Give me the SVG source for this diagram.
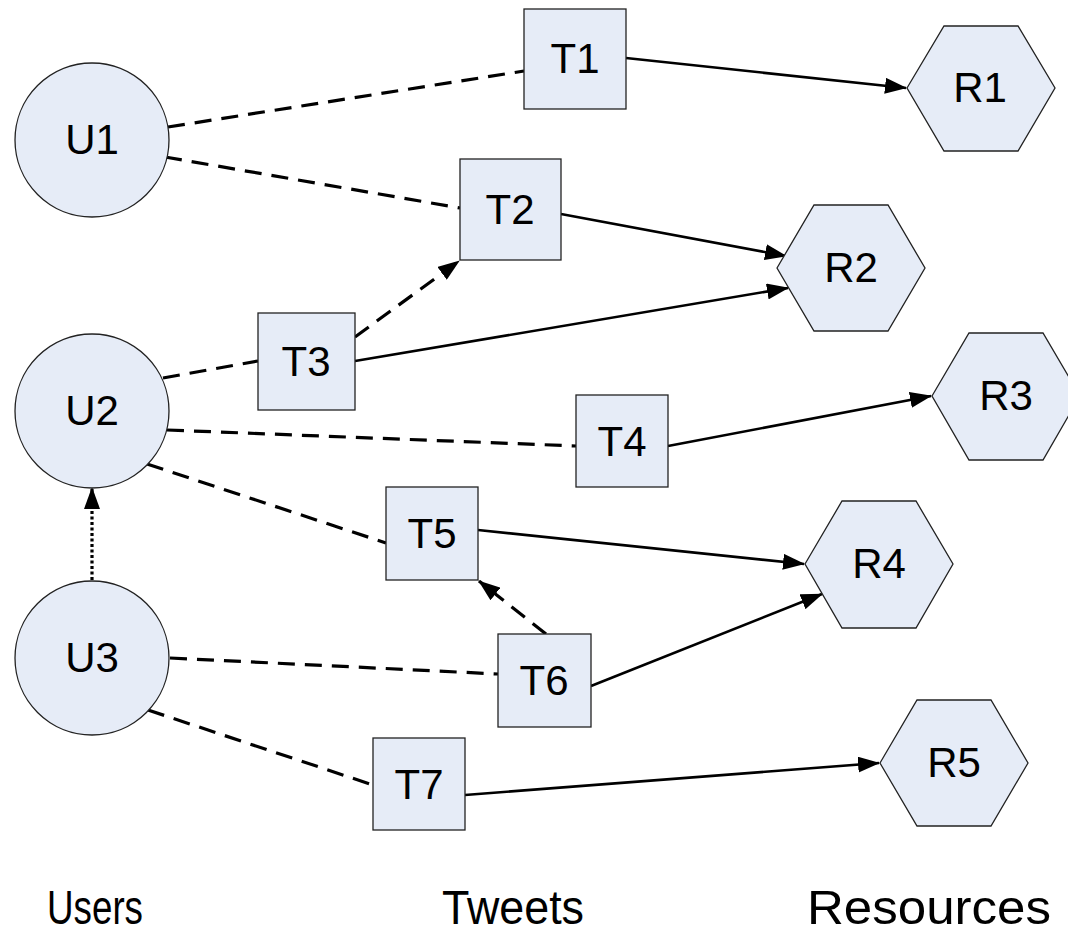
<svg xmlns="http://www.w3.org/2000/svg" width="1068" height="936" viewBox="0 0 1068 936">
<style>
.n{fill:#E6ECF7;stroke:#222;stroke-width:1.3}
.t{font-family:"Liberation Sans",Arial,sans-serif;font-size:42px;fill:#000;text-anchor:middle}
.h{font-family:"Liberation Sans",Arial,sans-serif;font-size:48px;fill:#000;text-anchor:middle}
.s{stroke:#000;stroke-width:2.6;fill:none}
.d{stroke:#000;stroke-width:3.2;fill:none;stroke-dasharray:17 10}
.o{stroke:#000;stroke-width:3.2;fill:none;stroke-dasharray:3 2.5}
</style>
<defs>
<marker id="a" markerUnits="userSpaceOnUse" markerWidth="22" markerHeight="16" refX="21" refY="8" orient="auto">
<path d="M0,0 L22,8 L0,16 z" fill="#000"/>
</marker>
</defs>
<rect width="1068" height="936" fill="#fff"/>
<g id="connectors">
<line class="d" x1="168" y1="127" x2="524" y2="71"/>
<line class="d" x1="165" y1="157" x2="460" y2="208"/>
<line class="s" x1="626" y1="58" x2="906" y2="88" marker-end="url(#a)"/>
<line class="s" x1="561" y1="214" x2="786" y2="256" marker-end="url(#a)"/>
<line class="s" x1="355" y1="361" x2="788" y2="288" marker-end="url(#a)"/>
<line class="d" x1="355" y1="337" x2="459" y2="261" marker-end="url(#a)"/>
<line class="d" x1="163" y1="378" x2="258" y2="361"/>
<line class="d" x1="167" y1="430" x2="576" y2="446"/>
<line class="s" x1="668" y1="446" x2="931" y2="396" marker-end="url(#a)"/>
<line class="d" x1="147" y1="464" x2="386" y2="543"/>
<line class="s" x1="478" y1="530" x2="804" y2="564" marker-end="url(#a)"/>
<line class="d" x1="546" y1="634" x2="479" y2="581" marker-end="url(#a)"/>
<line class="s" x1="591" y1="686" x2="822" y2="594" marker-end="url(#a)"/>
<line class="d" x1="170" y1="658" x2="498" y2="674"/>
<line class="d" x1="148" y1="710" x2="373" y2="785"/>
<line class="s" x1="465" y1="795" x2="879" y2="763" marker-end="url(#a)"/>
<line class="o" x1="92" y1="580" x2="92" y2="488" marker-end="url(#a)"/>
</g>
<g id="U1"><circle class="n" cx="92" cy="140" r="77"/><text class="t" x="92" y="154">U1</text></g>
<g id="U2"><circle class="n" cx="92" cy="411" r="77"/><text class="t" x="92" y="425">U2</text></g>
<g id="U3"><circle class="n" cx="92" cy="658" r="77"/><text class="t" x="92" y="672">U3</text></g>
<g id="T1"><rect class="n" x="524" y="9" width="102" height="100"/><text class="t" x="575" y="73">T1</text></g>
<g id="T2"><rect class="n" x="460" y="159" width="101" height="101"/><text class="t" x="510" y="224">T2</text></g>
<g id="T3"><rect class="n" x="258" y="313" width="97" height="97"/><text class="t" x="306" y="376">T3</text></g>
<g id="T4"><rect class="n" x="576" y="395" width="92" height="92"/><text class="t" x="622" y="456">T4</text></g>
<g id="T5"><rect class="n" x="386" y="487" width="92" height="93"/><text class="t" x="432" y="548">T5</text></g>
<g id="T6"><rect class="n" x="498" y="634" width="93" height="93"/><text class="t" x="544" y="695">T6</text></g>
<g id="T7"><rect class="n" x="373" y="738" width="92" height="92"/><text class="t" x="419" y="799">T7</text></g>
<g id="R1"><polygon class="n" points="907,88 944,26 1018,26 1055,88 1018,151 944,151"/><text class="t" x="980" y="102">R1</text></g>
<g id="R2"><polygon class="n" points="777,268 814,205 888,205 925,268 888,331 814,331"/><text class="t" x="851" y="282">R2</text></g>
<g id="R3"><polygon class="n" points="932,396 969,333 1043,333 1080,396 1043,460 969,460"/><text class="t" x="1006" y="410">R3</text></g>
<g id="R4"><polygon class="n" points="805,564 842,501 916,501 953,564 916,628 842,628"/><text class="t" x="879" y="578">R4</text></g>
<g id="R5"><polygon class="n" points="880,763 917,700 991,700 1028,763 991,826 917,826"/><text class="t" x="954" y="777">R5</text></g>
<g id="labels">
<text class="h" x="95" y="924" textLength="96" lengthAdjust="spacingAndGlyphs">Users</text>
<text class="h" x="513" y="924" textLength="142" lengthAdjust="spacingAndGlyphs">Tweets</text>
<text class="h" x="929" y="924" textLength="244" lengthAdjust="spacingAndGlyphs">Resources</text>
</g>
</svg>
